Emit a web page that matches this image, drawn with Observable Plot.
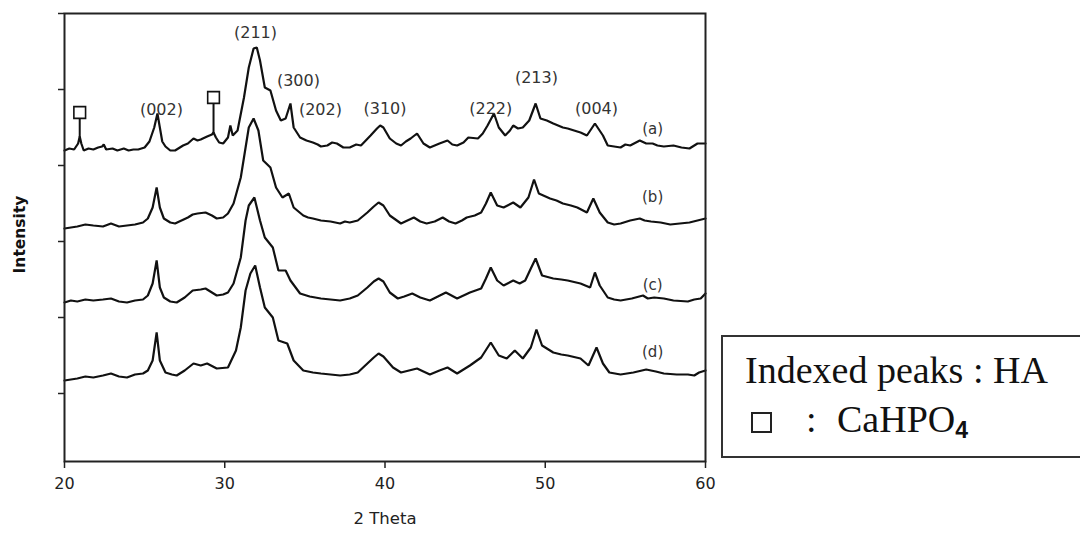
<!DOCTYPE html>
<html><head><meta charset="utf-8">
<script src="https://cdn.jsdelivr.net/npm/d3@7"></script>
<script src="https://cdn.jsdelivr.net/npm/@observablehq/plot@0.6"></script>
<style>
body{margin:0;background:#fff;}
#wrap{position:relative;width:1080px;height:536px;overflow:hidden;background:#fff;}
#legend{position:absolute;left:721px;top:335px;width:420px;height:119px;border:2px solid #333;font-family:"Liberation Serif","Times New Roman",serif;color:#111;font-size:38px;line-height:38px;}
#legend .t{position:absolute;white-space:nowrap;}
#legend .sq{position:absolute;width:17px;height:17px;border:2px solid #222;background:#fff;}
#legend sub{font-family:"Liberation Sans",Arial,sans-serif;font-weight:bold;font-size:23px;vertical-align:-6px;line-height:0;}
</style></head>
<body><div id="wrap"><div id="chart"></div>
<div id="legend">
  <div class="t" style="left:22px;top:14px;">Indexed peaks : HA</div>
  <div class="sq" style="left:28px;top:75px;"></div>
  <div class="t" style="left:83px;top:63px;">:</div>
  <div class="t" style="left:114px;top:63px;">CaHPO<sub>4</sub></div>
</div></div>
<script>
// ---- data (2θ in degrees, intensity in arbitrary units, traces stacked) ----
const thetaA = [20.0,20.3,20.6,20.85,20.95,21.05,21.2,21.5,21.8,22.1,22.35,22.45,22.6,23.0,23.3,23.7,24.0,24.3,24.6,25.0,25.3,25.6,25.8,25.95,26.1,26.3,26.6,26.9,27.2,27.4,27.7,28.05,28.3,28.5,28.9,29.2,29.3,29.45,29.65,29.9,30.2,30.35,30.5,30.8,31.2,31.5,31.8,32.0,32.2,32.5,32.85,33.2,33.5,33.8,34.1,34.3,34.7,35.1,35.5,35.8,36.0,36.4,36.7,37.0,37.4,37.8,38.2,38.5,39.1,39.5,39.7,39.9,40.3,40.7,41.0,41.3,41.6,42.0,42.4,42.8,43.1,43.4,43.9,44.2,44.5,44.9,45.2,45.8,46.1,46.4,46.8,47.1,47.5,47.8,48.0,48.3,48.6,49.0,49.4,49.7,50.1,50.5,50.8,51.1,51.4,51.8,52.2,52.6,53.1,53.6,53.9,54.3,54.7,55.0,55.3,55.9,56.3,56.7,57.0,57.4,58.0,58.5,59.0,59.5,60.0];
const intA   = [311,313,312,318,325,318,311,313,312,314,315,317,312,313,311,313,311,312,312,314,320,334,348,334,320,315,311,311,314,316,318,323,321,322,325,327,329,324,319,318,324,336,326,331,364,394,413,414,401,374,371,351,341,343,358,334,324,321,319,317,315,316,319,318,314,314,317,316,326,333,336,334,323,318,316,320,323,328,318,314,316,318,321,317,316,319,324,323,328,336,348,334,326,331,336,333,334,341,358,343,341,338,336,334,333,331,329,326,338,326,316,315,314,317,316,321,318,318,316,315,316,314,313,318,318];

const thetaB = [20.0,20.4,20.8,21.3,21.8,22.4,22.9,23.4,23.9,24.4,24.9,25.2,25.5,25.75,25.95,26.2,26.6,26.9,27.3,27.7,28.0,28.3,28.8,29.2,29.5,29.9,30.2,30.55,31.0,31.3,31.5,31.8,32.1,32.4,32.85,33.2,33.6,34.0,34.3,34.9,35.2,35.5,36.0,36.6,37.2,37.5,37.8,38.3,38.9,39.3,39.6,39.9,40.3,41.0,41.4,41.8,42.2,42.6,43.1,43.6,44.0,44.4,44.8,45.1,45.6,46.0,46.3,46.6,47.0,47.4,48.0,48.45,48.95,49.3,49.6,50.3,50.7,51.1,51.6,52.0,52.6,53.0,53.4,53.9,54.3,54.7,55.3,55.9,56.2,56.6,57.2,57.8,58.4,59.0,59.5,60.0];
const intB   = [233,234,235,237,236,235,238,235,236,237,239,243,254,274,254,243,239,238,241,244,247,248,249,246,243,244,248,258,284,314,334,343,331,301,294,274,264,268,254,246,244,243,241,240,238,240,239,241,249,255,259,256,246,238,241,244,240,238,240,244,240,238,241,244,246,249,258,269,256,254,259,254,264,282,268,263,261,258,256,254,249,263,249,239,237,238,241,243,241,240,239,237,238,239,241,243];

const thetaC = [20.0,20.4,20.8,21.3,21.8,22.4,22.9,23.4,23.9,24.4,24.9,25.2,25.5,25.75,25.95,26.2,26.6,27.0,27.5,28.0,28.5,28.8,29.2,29.5,29.9,30.2,30.55,31.0,31.3,31.5,31.85,32.2,32.5,33.0,33.35,33.8,34.1,34.7,35.3,36.0,36.6,37.2,37.8,38.3,38.9,39.3,39.6,39.9,40.3,40.8,41.2,41.7,42.2,42.8,43.3,43.8,44.5,44.9,45.3,46.0,46.3,46.6,47.0,47.4,48.0,48.4,48.75,49.1,49.4,49.8,50.5,51.0,51.4,52.2,52.8,53.1,53.4,53.9,54.3,54.7,55.4,56.1,56.4,56.8,57.4,58.0,58.9,59.3,59.7,60.0];
const intC   = [159,161,160,162,161,162,163,160,159,161,162,166,178,201,174,164,160,159,164,171,172,173,169,166,167,169,178,204,241,256,264,241,224,214,191,191,181,168,165,163,162,161,163,166,174,180,183,180,169,163,165,168,164,161,165,169,163,166,169,173,183,194,181,176,181,178,181,193,203,186,183,182,181,178,174,189,176,164,162,161,163,166,163,164,163,161,160,162,163,168];

const thetaD = [20.0,20.4,20.8,21.3,21.8,22.4,22.9,23.4,23.9,24.4,24.9,25.2,25.5,25.75,25.95,26.3,26.7,27.0,27.5,28.05,28.5,28.9,29.5,30.2,30.7,31.0,31.3,31.6,31.9,32.2,32.5,33.0,33.35,33.9,34.3,34.9,35.5,36.0,36.6,37.2,37.8,38.3,38.9,39.3,39.6,39.9,40.5,41.0,41.5,42.0,42.8,43.4,43.9,44.5,44.9,45.3,46.0,46.6,47.1,47.6,48.1,48.6,49.1,49.45,49.8,50.5,51.0,51.4,52.2,52.7,53.2,53.6,54.0,54.7,55.1,55.5,56.3,56.9,57.4,58.2,58.9,59.3,59.6,60.0];
const intD   = [81,82,83,85,84,86,88,85,84,87,88,91,101,129,101,89,87,86,91,98,96,98,93,94,111,134,171,188,196,174,154,144,121,118,101,91,89,88,87,86,87,89,98,104,108,105,94,89,91,93,87,91,94,88,92,96,104,119,106,103,111,103,114,132,116,109,107,106,103,96,114,98,89,87,88,89,92,90,88,87,87,86,89,91];

const sampleNames = ["(a)","(b)","(c)","(d)"];
const sampleLabelTheta = [56.7,56.7,56.7,56.7];
const sampleLabelInt = [332,264,176,109];

const hklLabels = ["(002)","(211)","(300)","(202)","(310)","(222)","(213)","(004)"];
const hklTheta  = [26.05,31.92,34.6,35.97,40.0,46.6,49.45,53.2];
const hklInt    = [352,429,381,352,353,353,384,353];

const cahpoTheta = [20.95,29.3];     // CaHPO4 reflections
const cahpoPeak  = [324,327];        // intensity of trace (a) at those reflections
const cahpoMark  = [343,358];        // marker stem top

const xTicks = [20,30,40,50,60];
const yTicks = [68,144,220,296,372,448];

// ---- build tables ----
const series = [[thetaA,intA,"a"],[thetaB,intB,"b"],[thetaC,intC,"c"],[thetaD,intD,"d"]];
const data = series.flatMap(([t,v,s]) => t.map((x,i)=>({theta:x, I:v[i], sample:s})));
const samples = sampleNames.map((n,i)=>({n, x:sampleLabelTheta[i], y:sampleLabelInt[i]}));
const hkl = hklLabels.map((n,i)=>({n, x:hklTheta[i], y:hklInt[i]}));
const marks = cahpoTheta.map((x,i)=>({x, y1:cahpoPeak[i], y2:cahpoMark[i]}));

const chart = Plot.plot({
  width: 1080, height: 536,
  marginLeft: 64, marginRight: 375, marginTop: 13, marginBottom: 75,
  style: {fontFamily: "'DejaVu Sans', Verdana, sans-serif", fontSize: "16px", color: "#111", background: "#fff"},
  x: {domain: [20, 60]},
  y: {domain: [0, 448]},
  marks: [
    Plot.axisX({ticks: xTicks, tickSize: 7, tickPadding: 9, fontSize: 16, label: null, stroke: "#222", strokeWidth: 1.5, fill: "#222"}),
    Plot.axisY({ticks: yTicks, tickSize: 6, tickFormat: () => "", label: null, stroke: "#222", strokeWidth: 1.5}),
    Plot.lineY(data, {x: "theta", y: "I", z: "sample", stroke: "#111", strokeWidth: 2.2, strokeLinejoin: "miter"}),
    Plot.ruleX(marks, {x: "x", y1: "y1", y2: "y2", stroke: "#111", strokeWidth: 2}),
    Plot.dot(marks, {x: "x", y: d => d.y2 + 6, symbol: "square", r: 6.6, fill: "#fff", stroke: "#111", strokeWidth: 1.6}),
    Plot.text(hkl, {x: "x", y: "y", text: "n", fontSize: 16, fill: "#333"}),
    Plot.text(samples, {x: "x", y: "y", text: "n", fontSize: 15, fill: "#333"}),
    Plot.text(["2 Theta"], {frameAnchor: "bottom", dy: 62, fontSize: 16.5, fill: "#222"}),
    Plot.text(["Intensity"], {frameAnchor: "left", textAnchor: "middle", dx: -44, dy: -3, rotate: -90, fontSize: 15.5, fontWeight: "bold", fill: "#111"}),
    Plot.frame({stroke: "#222", strokeWidth: 2})
  ]
});
document.getElementById("chart").appendChild(chart);
</script>
</body></html>
